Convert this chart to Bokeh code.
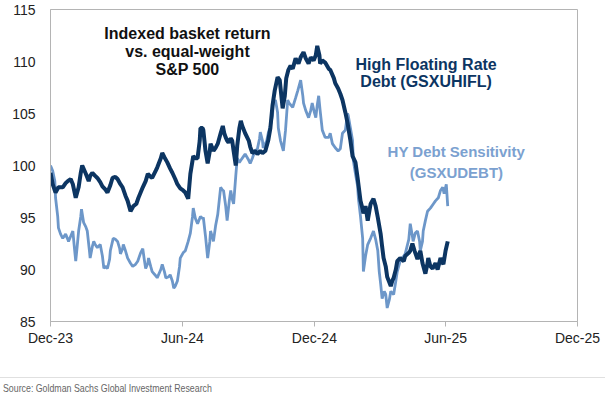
import pandas as pd
from bokeh.plotting import figure
from bokeh.layouts import column
from bokeh.models import Range1d, FixedTicker, Label, Div
from bokeh.embed import file_html
from bokeh.resources import INLINE

# ---------------- data ----------------
hifl_dates = ["2023-12-01","2023-12-04","2023-12-08","2023-12-12","2023-12-18","2023-12-22","2023-12-25","2023-12-29","2024-01-01","2024-01-05","2024-01-09","2024-01-12","2024-01-14","2024-01-19","2024-01-23","2024-01-25","2024-01-28","2024-02-01","2024-02-04","2024-02-08","2024-02-11","2024-02-15","2024-02-18","2024-02-22","2024-02-25","2024-02-29","2024-03-03","2024-03-07","2024-03-10","2024-03-14","2024-03-17","2024-03-21","2024-03-25","2024-03-29","2024-04-01","2024-04-04","2024-04-07","2024-04-11","2024-04-14","2024-04-18","2024-04-20","2024-04-25","2024-04-27","2024-05-02","2024-05-04","2024-05-07","2024-05-11","2024-05-15","2024-05-18","2024-05-22","2024-05-25","2024-05-29","2024-06-02","2024-06-05","2024-06-09","2024-06-12","2024-06-16","2024-06-19","2024-06-22","2024-06-25","2024-06-26","2024-06-29","2024-06-30","2024-07-03","2024-07-06","2024-07-09","2024-07-10","2024-07-13","2024-07-14","2024-07-17","2024-07-20","2024-07-24","2024-07-27","2024-07-29","2024-07-31","2024-08-02","2024-08-04","2024-08-07","2024-08-09","2024-08-11","2024-08-14","2024-08-16","2024-08-19","2024-08-21","2024-08-23","2024-08-27","2024-09-01","2024-09-03","2024-09-06","2024-09-10","2024-09-13","2024-09-17","2024-09-20","2024-09-24","2024-09-28","2024-10-01","2024-10-04","2024-10-07","2024-10-11","2024-10-14","2024-10-18","2024-10-21","2024-10-23","2024-10-26","2024-10-29","2024-11-01","2024-11-05","2024-11-09","2024-11-12","2024-11-16","2024-11-19","2024-11-23","2024-11-26","2024-11-30","2024-12-03","2024-12-05","2024-12-08","2024-12-09","2024-12-12","2024-12-16","2024-12-21","2024-12-23","2024-12-28","2024-12-30","2025-01-03","2025-01-06","2025-01-09","2025-01-13","2025-01-16","2025-01-20","2025-01-23","2025-01-27","2025-01-30","2025-02-03","2025-02-06","2025-02-07","2025-02-10","2025-02-13","2025-02-17","2025-02-21","2025-02-24","2025-02-27","2025-03-03","2025-03-05","2025-03-07","2025-03-10","2025-03-12","2025-03-17","2025-03-19","2025-03-21","2025-03-24","2025-03-26","2025-03-30","2025-04-04","2025-04-06","2025-04-11","2025-04-13","2025-04-16","2025-04-19","2025-04-23","2025-04-26","2025-04-27","2025-04-30","2025-05-04","2025-05-07","2025-05-08","2025-05-11","2025-05-14","2025-05-18","2025-05-21","2025-05-25","2025-05-29","2025-06-01","2025-06-04"]
hifl_values = [99.3,98.2,97.4,97.9,97.9,98.3,98.5,98.7,98.2,96.9,97.9,99.3,100.0,99.2,98.5,99.0,99.3,99.0,98.8,98.4,98.0,97.7,97.4,98.1,98.8,98.9,98.7,98.2,97.9,97.1,96.6,95.6,96.1,96.3,96.9,97.4,97.9,98.5,99.2,98.9,98.8,99.5,99.8,100.7,101.2,100.8,100.3,99.7,99.3,98.7,98.2,97.8,97.6,97.4,96.8,99.2,100.9,100.7,100.7,102.4,103.6,103.6,103.4,101.4,100.2,101.4,102.1,101.6,101.4,101.7,102.1,103.1,103.8,103.1,102.7,102.4,102.2,102.6,102.4,101.4,100.0,101.9,103.6,104.3,103.8,103.1,102.4,101.8,101.2,101.4,101.1,101.4,101.2,101.4,102.4,103.6,105.8,107.2,108.5,108.2,105.5,106.7,108.4,109.2,109.6,109.3,110.3,109.8,110.4,110.9,110.3,109.8,110.4,110.1,110.6,111.5,110.6,109.8,110.1,109.9,109.3,109.2,108.4,107.9,107.4,106.9,106.3,105.1,104.1,102.4,100.9,100.3,98.8,96.6,95.8,95.4,96.1,94.7,96.3,96.8,96.1,95.0,93.4,92.2,91.1,90.3,89.3,88.4,88.9,89.2,90.0,90.8,91.1,90.8,91.3,91.6,91.8,92.5,91.8,91.0,91.6,91.8,90.6,89.6,90.6,91.1,90.3,90.1,90.6,90.0,91.1,90.5,91.8,92.7]

debt_dates = ["2023-12-01","2023-12-04","2023-12-07","2023-12-08","2023-12-11","2023-12-12","2023-12-15","2023-12-18","2023-12-22","2023-12-25","2023-12-26","2023-12-29","2024-01-01","2024-01-03","2024-01-05","2024-01-07","2024-01-09","2024-01-12","2024-01-13","2024-01-16","2024-01-19","2024-01-21","2024-01-24","2024-01-25","2024-01-28","2024-01-30","2024-02-01","2024-02-04","2024-02-08","2024-02-11","2024-02-13","2024-02-15","2024-02-18","2024-02-21","2024-02-22","2024-02-25","2024-02-26","2024-02-29","2024-03-03","2024-03-06","2024-03-07","2024-03-10","2024-03-11","2024-03-14","2024-03-17","2024-03-21","2024-03-24","2024-03-28","2024-03-31","2024-04-04","2024-04-07","2024-04-09","2024-04-11","2024-04-14","2024-04-15","2024-04-18","2024-04-20","2024-04-25","2024-04-27","2024-05-02","2024-05-04","2024-05-07","2024-05-09","2024-05-13","2024-05-15","2024-05-18","2024-05-20","2024-05-22","2024-05-25","2024-05-28","2024-05-29","2024-06-02","2024-06-05","2024-06-09","2024-06-12","2024-06-15","2024-06-16","2024-06-19","2024-06-22","2024-06-26","2024-06-29","2024-06-30","2024-07-03","2024-07-06","2024-07-09","2024-07-10","2024-07-13","2024-07-14","2024-07-17","2024-07-20","2024-07-22","2024-07-24","2024-07-27","2024-07-28","2024-07-31","2024-08-02","2024-08-05","2024-08-07","2024-08-09","2024-08-11","2024-08-14","2024-08-16","2024-08-19","2024-08-21","2024-08-25","2024-08-27","2024-09-01","2024-09-03","2024-09-06","2024-09-08","2024-09-10","2024-09-13","2024-09-16","2024-09-17","2024-09-20","2024-09-21","2024-09-26","2024-09-28","2024-10-01","2024-10-04","2024-10-05","2024-10-08","2024-10-11","2024-10-12","2024-10-15","2024-10-19","2024-10-22","2024-10-25","2024-10-27","2024-11-01","2024-11-05","2024-11-08","2024-11-12","2024-11-15","2024-11-16","2024-11-19","2024-11-23","2024-11-26","2024-11-28","2024-12-01","2024-12-03","2024-12-05","2024-12-07","2024-12-09","2024-12-12","2024-12-16","2024-12-21","2024-12-23","2024-12-26","2024-12-30","2025-01-03","2025-01-06","2025-01-09","2025-01-13","2025-01-16","2025-01-17","2025-01-20","2025-01-23","2025-01-24","2025-01-27","2025-01-30","2025-01-31","2025-02-03","2025-02-06","2025-02-07","2025-02-10","2025-02-13","2025-02-17","2025-02-21","2025-02-24","2025-02-27","2025-03-01","2025-03-03","2025-03-05","2025-03-08","2025-03-10","2025-03-12","2025-03-15","2025-03-17","2025-03-21","2025-03-24","2025-03-26","2025-03-30","2025-04-04","2025-04-06","2025-04-11","2025-04-13","2025-04-16","2025-04-17","2025-04-20","2025-04-23","2025-04-26","2025-04-27","2025-04-30","2025-05-01","2025-05-04","2025-05-07","2025-05-11","2025-05-15","2025-05-18","2025-05-22","2025-05-25","2025-05-28","2025-05-30","2025-06-02","2025-06-04"]
debt_values = [100.0,99.5,98.5,96.9,95.1,94.0,93.4,93.0,93.4,92.9,92.7,93.2,93.7,92.2,90.8,92.2,93.7,95.1,95.8,94.5,94.1,93.7,91.8,91.1,92.2,92.7,92.4,92.1,92.4,91.3,90.1,90.3,90.1,91.0,91.8,92.7,93.0,92.9,92.7,92.0,91.5,92.0,92.4,91.8,91.1,90.6,90.3,90.5,90.8,91.6,92.0,91.0,90.1,90.6,91.1,90.3,89.8,89.4,89.2,90.0,90.5,89.8,89.2,89.3,89.5,88.9,88.2,88.4,88.9,90.3,91.1,91.6,91.8,92.7,93.5,95.1,95.9,94.9,94.4,95.1,94.9,95.0,93.2,91.1,92.7,93.7,93.0,92.7,94.2,95.3,96.6,97.9,97.6,97.6,96.1,94.7,96.6,97.6,96.8,96.3,99.0,100.7,100.3,100.5,100.9,101.1,100.5,100.2,100.7,101.1,101.4,101.6,102.6,103.2,102.4,101.7,102.4,103.1,103.8,104.8,106.0,106.3,105.1,103.6,102.4,101.4,103.4,106.3,106.0,105.6,106.5,107.2,108.2,106.7,106.0,105.3,104.6,105.3,106.0,105.1,104.6,105.8,106.7,105.3,103.4,102.7,102.7,103.1,102.1,101.7,101.4,101.6,103.1,103.4,105.0,104.8,103.6,102.4,100.5,99.2,98.0,96.9,95.1,93.0,89.8,91.3,92.4,93.0,93.7,92.9,91.8,89.8,88.6,87.2,87.9,87.6,86.3,87.1,87.9,87.6,88.9,89.8,90.8,91.3,91.5,92.9,94.4,93.2,92.7,93.5,93.7,92.7,91.8,92.7,93.7,94.7,95.6,95.9,96.3,96.6,96.9,97.6,97.9,97.3,98.2,96.1]

tick_dates = ["2023-12-01", "2024-06-01", "2024-12-01", "2025-06-01", "2025-12-01"]
tick_labels = ["Dec-23", "Jun-24", "Dec-24", "Jun-25", "Dec-25"]
y_ticks = [85, 90, 95, 100, 105, 110, 115]

title_lines = ["Indexed basket return", "vs. equal-weight", "S&P 500"]
hifl_label = ["High Floating Rate", "Debt (GSXUHIFL)"]
debt_label = ["HY Debt Sensitivity", "(GSXUDEBT)"]
source_text = "Source: Goldman Sachs Global Investment Research"


def ms(d):
    return pd.Timestamp(d).timestamp() * 1000.0


n1 = min(len(hifl_dates), len(hifl_values))
n2 = min(len(debt_dates), len(debt_values))
hx = pd.to_datetime(hifl_dates[:n1])
dx = pd.to_datetime(debt_dates[:n2])

DARK = "#0c3562"
LIGHT = "#6d97c9"
FONT = "Liberation Sans"
W = 605

p = figure(width=W, height=360, x_axis_type="datetime",
           output_backend="svg", toolbar_location=None,
           x_range=Range1d(ms("2023-12-01"), ms("2025-12-01")),
           y_range=Range1d(85, 115),
           min_border_left=50, min_border_right=28,
           min_border_top=9, min_border_bottom=39)
p.background_fill_color = "white"
p.border_fill_color = "white"
p.outline_line_color = "#b4b4b4"
p.outline_line_width = 1
p.xgrid.visible = False
p.ygrid.visible = False

p.line(dx, debt_values[:n2], line_color=LIGHT, line_width=2.8)
p.line(hx, hifl_values[:n1], line_color=DARK, line_width=4.0)

# axes
tick_ms = [ms(d) for d in tick_dates]
p.xaxis.ticker = FixedTicker(ticks=tick_ms)
p.xaxis.major_label_overrides = {t: lab for t, lab in zip(tick_ms, tick_labels)}
p.xaxis.axis_line_color = "#b4b4b4"
p.xaxis.major_tick_line_color = "#b4b4b4"
p.xaxis.major_tick_out = 5
p.xaxis.major_tick_in = 0
p.xaxis.minor_tick_line_color = None
p.xaxis.major_label_standoff = 3
p.xaxis.major_label_text_font = FONT
p.xaxis.major_label_text_font_size = "14px"
p.xaxis.major_label_text_color = "#222222"

p.yaxis.ticker = FixedTicker(ticks=y_ticks)
p.yaxis.axis_line_color = "#b4b4b4"
p.yaxis.major_tick_line_color = None
p.yaxis.minor_tick_line_color = None
p.yaxis.major_label_standoff = 9
p.yaxis.major_label_text_font = FONT
p.yaxis.major_label_text_font_size = "14px"
p.yaxis.major_label_text_color = "#222222"

# annotations
for txt, yv in zip(title_lines, [112.7, 111.0, 109.25]):
    p.add_layout(Label(x=ms("2024-06-08"), y=yv, text=txt, text_align="center",
                       text_baseline="middle", text_font=FONT, text_font_style="bold",
                       text_font_size="16px", text_color="#111111"))
for txt, yv in zip(hifl_label, [109.7, 108.1]):
    p.add_layout(Label(x=ms("2025-05-05"), y=yv, text=txt, text_align="center",
                       text_baseline="middle", text_font=FONT, text_font_style="bold",
                       text_font_size="16px", text_color=DARK))
for txt, yv in zip(debt_label, [101.3, 99.35]):
    p.add_layout(Label(x=ms("2025-06-16"), y=yv, text=txt, text_align="center",
                       text_baseline="middle", text_font=FONT, text_font_style="bold",
                       text_font_size="15px", text_color="#7ba1d0"))

# footer: separator line and source note
footer_html = (
    '<div style="margin:17px 0 0 0;border-top:1px solid #e0e0e0;width:605px;'
    'padding:4px 0 0 3px;box-sizing:border-box;">'
    '<div style="font-family:\'Liberation Sans\',sans-serif;font-size:11px;color:#666666;'
    'white-space:nowrap;transform:scaleX(0.8);transform-origin:0 0;line-height:13px;">'
    + source_text + '</div></div>'
)
f = Div(text=footer_html, width=W, height=38, margin=(0, 0, 0, 0))

open("out.html", "w").write(file_html(column(p, f, spacing=0), INLINE))
